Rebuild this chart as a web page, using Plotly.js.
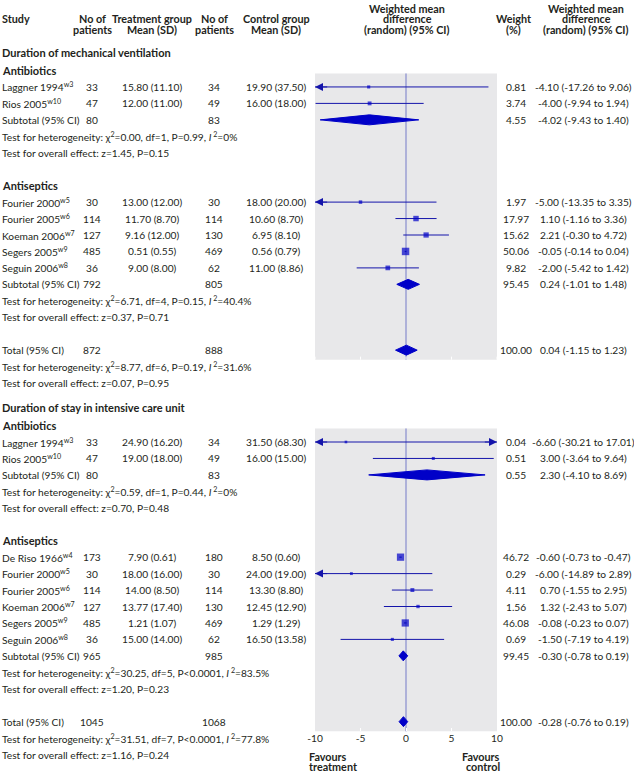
<!DOCTYPE html>
<html><head><meta charset="utf-8">
<script src="https://cdn.plot.ly/plotly-3.0.1.min.js"></script>
<style>body{margin:0;background:#fff}#chart{width:634px;height:772px}</style>
</head><body><div id="chart"></div>
<script>
// ---------------- DATA ----------------
const sectionNames = ["Duration of mechanical ventilation", "Duration of stay in intensive care unit"];
const subgroupNames = ["Antibiotics", "Antiseptics", "Antibiotics", "Antiseptics"];
const subgroupSection = [0, 0, 1, 1];

const studyNames = ["Laggner 1994","Rios 2005","Fourier 2000","Fourier 2005","Koeman 2006","Segers 2005","Seguin 2006",
                    "Laggner 1994","Rios 2005","De Riso 1966","Fourier 2000","Fourier 2005","Koeman 2006","Segers 2005","Seguin 2006"];
const studyRefs = ["w3","w10","w5","w6","w7","w9","w8","w3","w10","w4","w5","w6","w7","w9","w8"];
const studySubgroup = [0,0,1,1,1,1,1,2,2,3,3,3,3,3,3];
const treatN = [33,47,30,114,127,485,36,33,47,173,30,114,127,485,36];
const treatMean = [15.80,12.00,13.00,11.70,9.16,0.51,9.00,24.90,19.00,7.90,18.00,14.00,13.77,1.21,15.00];
const treatSD = [11.10,11.00,12.00,8.70,12.00,0.55,8.00,16.20,18.00,0.61,16.00,8.50,17.40,1.07,14.00];
const ctrlN = [34,49,30,114,130,469,62,34,49,180,30,114,130,469,62];
const ctrlMean = [19.90,16.00,18.00,10.60,6.95,0.56,11.00,31.50,16.00,8.50,24.00,13.30,12.45,1.29,16.50];
const ctrlSD = [37.50,18.00,20.00,8.70,8.10,0.79,8.86,68.30,15.00,0.60,19.00,8.80,12.90,1.29,13.58];
const studyWeight = [0.81,3.74,1.97,17.97,15.62,50.06,9.82,0.04,0.51,46.72,0.29,4.11,1.56,46.08,0.69];
const studyWMD = [-4.10,-4.00,-5.00,1.10,2.21,-0.05,-2.00,-6.60,3.00,-0.60,-6.00,0.70,1.32,-0.08,-1.50];
const studyLo = [-17.26,-9.94,-13.35,-1.16,-0.30,-0.14,-5.42,-30.21,-3.64,-0.73,-14.89,-1.55,-2.43,-0.23,-7.19];
const studyHi = [9.06,1.94,3.35,3.36,4.72,0.04,1.42,17.01,9.64,-0.47,2.89,2.95,5.07,0.07,4.19];

const subTreatN = [80,792,80,965];
const subCtrlN = [83,805,83,985];
const subWeight = [4.55,95.45,0.55,99.45];
const subWMD = [-4.02,0.24,2.30,-0.30];
const subLo = [-9.43,-1.01,-4.10,-0.78];
const subHi = [1.40,1.48,8.69,0.19];
const subChi2 = ["0.00","6.71","0.59","30.25"];
const subDf = [1,4,1,5];
const subP = ["=0.99","=0.15","=0.44","<0.0001"];
const subI2 = ["0","40.4","0","83.5"];
const subZ = ["1.45","0.37","0.70","1.20"];
const subPz = ["0.15","0.71","0.48","0.23"];

const totTreatN = [872,1045];
const totCtrlN = [888,1068];
const totWeight = [100.00,100.00];
const totWMD = [0.04,-0.28];
const totLo = [-1.15,-0.76];
const totHi = [1.23,0.19];
const totChi2 = ["8.77","31.51"];
const totDf = [6,7];
const totP = ["=0.19","<0.0001"];
const totI2 = ["31.6","77.8"];
const totZ = ["0.07","1.16"];
const totPz = ["0.95","0.24"];

const xTicks = [-10,-5,0,5,10];

// ---------------- LAYOUT HELPERS ----------------
const W = 634, H = 772;
const FONT = "Lato, 'Open Sans', sans-serif";
const TXT = "#231f20";
const LINE_BLUE = "#1414aa";
const FILL_BLUE = "#0000c8";
const BODY = 10.2, HEAD = 10.8, SEC = 11;
const col = {study:1, nT:92, mT:152, nC:214, mC:276, forest:407, wt:516, ci:583};
const P = 16.45;

const f2 = v => v.toFixed(2);
const pStr = s => (s[0] === "<" ? "P&lt;" + s.slice(1) : "P" + s);
const hetStr = (c, d, p, i2) => "Test for heterogeneity: χ<sup>2</sup>=" + c + ", df=" + d + ", " + pStr(p) + ", <i>I</i><sup> 2</sup>=" + i2 + "%";
const ovStr = (z, p) => "Test for overall effect: z=" + z + ", P=" + p;
const ciStr = (e, l, h) => f2(e) + " (" + f2(l) + " to " + f2(h) + ")";

const ann = [];
function txt(px, y, text, anchor, bold, size) {
  ann.push({xref:"paper", yref:"y", x:px / W, y:y, text: bold ? "<b>" + text + "</b>" : text,
    xanchor:anchor, yanchor:"middle", showarrow:false, borderpad:0,
    font:{family:FONT, size:size || BODY, color:TXT}});
}

// build rows
const rows = [];
const panels = [];
let y = 52;
sectionNames.forEach((sec, s) => {
  if (s > 0) y += 24;
  rows.push({kind:"section", y:y, s:s});
  let first = true, panelTop;
  subgroupNames.forEach((sg, g) => {
    if (subgroupSection[g] !== s) return;
    y += first ? 18.5 : 2 * P;
    rows.push({kind:"subgroup", y:y, g:g});
    studySubgroup.forEach((gg, i) => {
      if (gg !== g) return;
      y += P;
      if (panelTop === undefined) panelTop = y - 13.5;
      rows.push({kind:"study", y:y, i:i});
    });
    y += P; rows.push({kind:"subtotal", y:y, g:g});
    y += P; rows.push({kind:"subhet", y:y, g:g});
    y += P; rows.push({kind:"subov", y:y, g:g});
    first = false;
  });
  y += 2 * P; rows.push({kind:"total", y:y, s:s});
  panels.push([panelTop, y + 9.5]);
  y += P; rows.push({kind:"tothet", y:y, s:s});
  y += P; rows.push({kind:"totov", y:y, s:s});
});

// header (lines bottom aligned)
function header(x, lines, anchor) {
  lines.forEach((l, k) => txt(x, 29 - 10.5 * (lines.length - 1 - k), l, anchor, true, HEAD));
}
txt(col.study, 18.5, "Study", "left", true, HEAD);
header(col.nT, ["No of", "patients"], "center");
header(col.mT, ["Treatment group", "Mean (SD)"], "center");
header(col.nC, ["No of", "patients"], "center");
header(col.mC, ["Control group", "Mean (SD)"], "center");
header(col.forest, ["Weighted mean", "difference", "(random) (95% CI)"], "center");
header(513, ["Weight", "(%)"], "center");
header(586, ["Weighted mean", "difference", "(random) (95% CI)"], "center");

// forest data containers
const ciX = [], ciY = [], sqX = [], sqY = [], sqS = [], dX = [], dY = [];
const xmin = xTicks[0], xmax = xTicks[xTicks.length - 1];
const arrows = [];
function diamond(e, l, h, yy) {
  dX.push(l, e, h, e, l, null);
  dY.push(yy, yy - 5, yy, yy + 5, yy, null);
}

rows.forEach(r => {
  const yy = r.y;
  if (r.kind === "section") txt(col.study, yy, sectionNames[r.s], "left", true, SEC);
  else if (r.kind === "subgroup") txt(col.study, yy, subgroupNames[r.g], "left", true, SEC);
  else if (r.kind === "study") {
    const i = r.i;
    txt(col.study, yy, studyNames[i] + "<sup>" + studyRefs[i] + "</sup>", "left");
    txt(col.nT, yy, String(treatN[i]), "center");
    txt(col.mT, yy, f2(treatMean[i]) + " (" + f2(treatSD[i]) + ")", "center");
    txt(col.nC, yy, String(ctrlN[i]), "center");
    txt(col.mC, yy, f2(ctrlMean[i]) + " (" + f2(ctrlSD[i]) + ")", "center");
    txt(col.wt, yy, f2(studyWeight[i]), "center");
    txt(col.ci, yy, ciStr(studyWMD[i], studyLo[i], studyHi[i]), "center");
    const lo = Math.max(studyLo[i], xmin), hi = Math.min(studyHi[i], xmax);
    ciX.push(lo, hi, null); ciY.push(yy, yy, null);
    sqX.push(studyWMD[i]); sqY.push(yy);
    sqS.push(2.5 + 0.7 * Math.sqrt(studyWeight[i]));
    if (studyLo[i] < xmin) arrows.push([xmin, yy, 1]);
    if (studyHi[i] > xmax) arrows.push([xmax, yy, -1]);
  } else if (r.kind === "subtotal") {
    const g = r.g;
    txt(col.study, yy, "Subtotal (95% CI)", "left");
    txt(col.nT, yy, String(subTreatN[g]), "center");
    txt(col.nC, yy, String(subCtrlN[g]), "center");
    txt(col.wt, yy, f2(subWeight[g]), "center");
    txt(col.ci, yy, ciStr(subWMD[g], subLo[g], subHi[g]), "center");
    diamond(subWMD[g], subLo[g], subHi[g], yy);
  } else if (r.kind === "subhet") {
    const g = r.g;
    txt(col.study, yy, hetStr(subChi2[g], subDf[g], subP[g], subI2[g]), "left");
  } else if (r.kind === "subov") {
    txt(col.study, yy, ovStr(subZ[r.g], subPz[r.g]), "left");
  } else if (r.kind === "total") {
    const s = r.s;
    txt(col.study, yy, "Total (95% CI)", "left");
    txt(col.nT, yy, String(totTreatN[s]), "center");
    txt(col.nC, yy, String(totCtrlN[s]), "center");
    txt(col.wt, yy, f2(totWeight[s]), "center");
    txt(col.ci, yy, ciStr(totWMD[s], totLo[s], totHi[s]), "center");
    diamond(totWMD[s], totLo[s], totHi[s], yy);
  } else if (r.kind === "tothet") {
    const s = r.s;
    txt(col.study, yy, hetStr(totChi2[s], totDf[s], totP[s], totI2[s]), "left");
  } else if (r.kind === "totov") {
    txt(col.study, yy, ovStr(totZ[r.s], totPz[r.s]), "left");
  }
});

// arrows for CIs beyond axis range
arrows.forEach(a => {
  ann.push({xref:"x", yref:"y", x:a[0], y:a[1], axref:"x", ayref:"y", ax:a[0] + a[2] * 1.5, ay:a[1],
    text:"", showarrow:true, arrowhead:2, arrowsize:1.6, arrowwidth:1, arrowcolor:LINE_BLUE, standoff:0, startstandoff:0});
});

// shapes: panels, zero line, white ticks
const shapes = [];
panels.forEach((p, k) => {
  shapes.push({type:"rect", xref:"x", yref:"y", x0:xmin, x1:xmax, y0:p[0], y1:p[1],
    fillcolor:"#e8e8ea", line:{width:0}, layer:"below"});
  shapes.push({type:"line", xref:"x", yref:"y", x0:0, x1:0, y0:p[0], y1:p[1],
    line:{color:"#aeb1d9", width:2}, layer:"below"});
  if (k < panels.length - 1) {
    xTicks.forEach(t => shapes.push({type:"line", xref:"x", yref:"y", x0:t, x1:t, y0:p[1] - 3, y1:p[1],
      line:{color:"#ffffff", width:1}, layer:"below"}));
  }
});
const axisBottom = panels[panels.length - 1][1];

// favours labels
const favY = axisBottom + 25;
txt(308, favY, "Favours", "left", true, HEAD);
txt(308, favY + 10.5, "treatment", "left", true, HEAD);
txt(501, favY, "Favours", "right", true, HEAD);
txt(501, favY + 10.5, "control", "right", true, HEAD);

const traces = [
  {type:"scatter", mode:"lines", x:ciX, y:ciY,
   line:{color:LINE_BLUE, width:1}, hoverinfo:"skip", showlegend:false},
  {type:"scatter", mode:"lines", x:dX, y:dY, fill:"toself",
   fillcolor:FILL_BLUE, line:{color:FILL_BLUE, width:1}, hoverinfo:"skip", showlegend:false},
  {type:"scatter", mode:"markers", x:sqX, y:sqY,
   marker:{symbol:"square", size:sqS, color:FILL_BLUE, line:{width:0}}, hoverinfo:"skip", showlegend:false}
];

const layout = {
  width:W, height:H, margin:{l:0, r:0, t:0, b:0},
  paper_bgcolor:"#ffffff", plot_bgcolor:"rgba(0,0,0,0)",
  showlegend:false,
  xaxis:{domain:[315/W, 497/W], range:[xmin, xmax], anchor:"free", position:1 - axisBottom / H,
    tickvals:xTicks, ticktext:xTicks.map(String), ticks:"inside", ticklen:3, tickcolor:"#ffffff",
    showgrid:false, zeroline:false, showline:false, fixedrange:true,
    tickfont:{family:FONT, size:10.2, color:TXT}},
  yaxis:{domain:[0, 1], range:[H, 0], visible:false, fixedrange:true},
  shapes:shapes,
  annotations:ann,
  font:{family:FONT, color:TXT}
};

Plotly.newPlot("chart", traces, layout, {displayModeBar:false, staticPlot:true});
</script>
</body></html>
